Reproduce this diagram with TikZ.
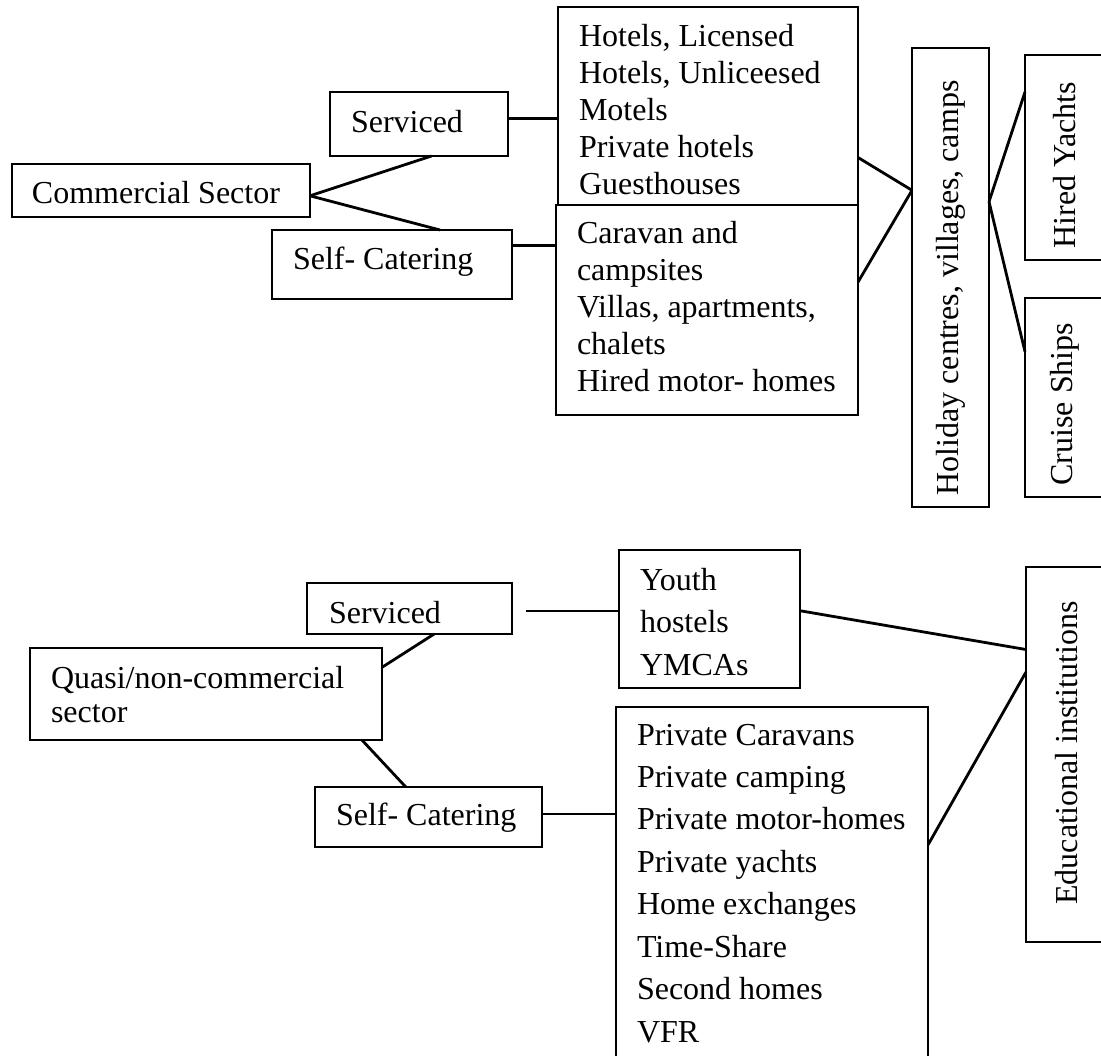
\documentclass[tikz,border=0pt]{standalone}
\usepackage{fontspec}
\setmainfont{Liberation Serif}
\usetikzlibrary{calc}
\newcommand\mystrut{\rule{0pt}{9pt}}
\tikzset{
  bx/.style n args={2}{draw, line width=0.8pt, minimum width={#1*0.375pt}, minimum height={#2*0.375pt}, inner sep=0pt, outer sep=0pt, anchor=north west},
  tx/.style={anchor=north west, inner sep=0pt, outer sep=0pt, align=left, font=\fontsize{12pt}{13.875pt}\selectfont},
  vtx/.style={rotate=90, inner sep=0pt, outer sep=0pt, font=\fontsize{12pt}{13.875pt}\selectfont},
  ln/.style={line width=1.05pt}
}
\begin{document}
\begin{tikzpicture}[x=0.375pt, y=-0.375pt]
\useasboundingbox (0,0) rectangle (1101,1055);
\fill[white] (0,0) rectangle (1101,1055);
\clip (0,0) rectangle (1101,1055);

% ---- Commercial sector ----
\node[bx={298}{53}] (comm) at (12,164) {};
\node[tx] (commt) at (32,179) {\mystrut Commercial Sector};
\node[bx={178}{64}] (serv) at (330,92) {};
\node[tx] (servt) at (351,108) {\mystrut Serviced};
\node[bx={240}{69}] (self) at (272,230) {};
\node[tx] (selft) at (293,245) {\mystrut Self- Catering};
\node[bx={300}{198}] (hotels) at (558,7) {};
\node[tx] (hotelst) at (579,22) {\mystrut Hotels, Licensed\\Hotels, Unliceesed\\Motels\\Private hotels\\Guesthouses};
\node[bx={302}{210}] (caravan) at (556,205) {};
\node[tx] (caravant) at (577,219) {\mystrut Caravan and\\campsites\\Villas, apartments,\\chalets\\Hired motor- homes};
\node[bx={77}{459}] (holiday) at (912,48) {};
\node[vtx] (holidayt) at (951,288) {Holiday centres, villages, camps};
\node[bx={120}{205}] (yachts) at (1025,55) {};
\node[vtx] (yachtst) at (1065,165) {Hired Yachts};
\node[bx={120}{199}] (cruise) at (1025,298) {};
\node[vtx] (cruiset) at (1065,404) {Cruise Ships};

\draw[ln] ($(comm.north east)!0.60!(comm.south east)$) -- ($(serv.south west)!0.57!(serv.south east)$);
\draw[ln] ($(comm.north east)!0.60!(comm.south east)$) -- ($(self.north west)!0.70!(self.north east)$);
\coordinate (a3) at ($(serv.north east)!0.41!(serv.south east)$);
\draw[ln] (a3) -- (a3 -| hotels.west);
\coordinate (a4) at ($(self.north east)!0.23!(self.south east)$);
\draw[ln] (a4) -- (a4 -| caravan.west);
\draw[ln] ($(hotels.north east)!0.76!(hotels.south east)$) -- ($(holiday.north west)!0.31!(holiday.south west)$);
\draw[ln] ($(caravan.north east)!0.367!(caravan.south east)$) -- ($(holiday.north west)!0.31!(holiday.south west)$);
\draw[ln] ($(holiday.north east)!0.335!(holiday.south east)$) -- ($(yachts.north west)!0.18!(yachts.south west)$);
\draw[ln] ($(holiday.north east)!0.335!(holiday.south east)$) -- ($(cruise.north west)!0.27!(cruise.south west)$);

% ---- Quasi / non-commercial sector ----
\node[bx={205}{51}] (bserv) at (307,583) {};
\node[tx] (bservt) at (329,599) {\mystrut Serviced};
\node[bx={352}{92}] (quasi) at (30,648) {};
\node[tx, font=\fontsize{12pt}{13.1pt}\selectfont] (quasit) at (51,664) {\mystrut Quasi/non-commercial\\sector};
\node[bx={227}{60}] (bself) at (315,787) {};
\node[tx] (bselft) at (336,801) {\mystrut Self- Catering};
\node[bx={181}{138}] (youth) at (619,550) {};
\node[tx, font=\fontsize{12pt}{15.94pt}\selectfont] (youtht) at (640,566) {\mystrut Youth\\hostels\\YMCAs};
\node[bx={312}{360}] (private) at (616,707) {};
\node[tx, font=\fontsize{12pt}{15.91pt}\selectfont] (privatet) at (637,721) {\mystrut Private Caravans\\Private camping\\Private motor-homes\\Private yachts\\Home exchanges\\Time-Share\\Second homes\\VFR};
\node[bx={120}{375}] (edu) at (1026,567) {};
\node[vtx] (edut) at (1067,753) {Educational institutions};

\coordinate (free) at (526,611);
\draw[ln] (free) -- (free -| youth.west);
\draw[ln] ($(quasi.north east)!0.21!(quasi.south east)$) -- ($(bserv.south west)!0.62!(bserv.south east)$);
\draw[ln] ($(quasi.south west)!0.943!(quasi.south east)$) -- ($(bself.north west)!0.40!(bself.north east)$);
\coordinate (b4) at ($(bself.north east)!0.45!(bself.south east)$);
\draw[ln] (b4) -- (b4 -| private.west);
\draw[ln] ($(youth.north east)!0.44!(youth.south east)$) -- ($(edu.north west)!0.22!(edu.south west)$);
\draw[ln] ($(private.north east)!0.383!(private.south east)$) -- ($(edu.north west)!0.28!(edu.south west)$);
\end{tikzpicture}
\end{document}
